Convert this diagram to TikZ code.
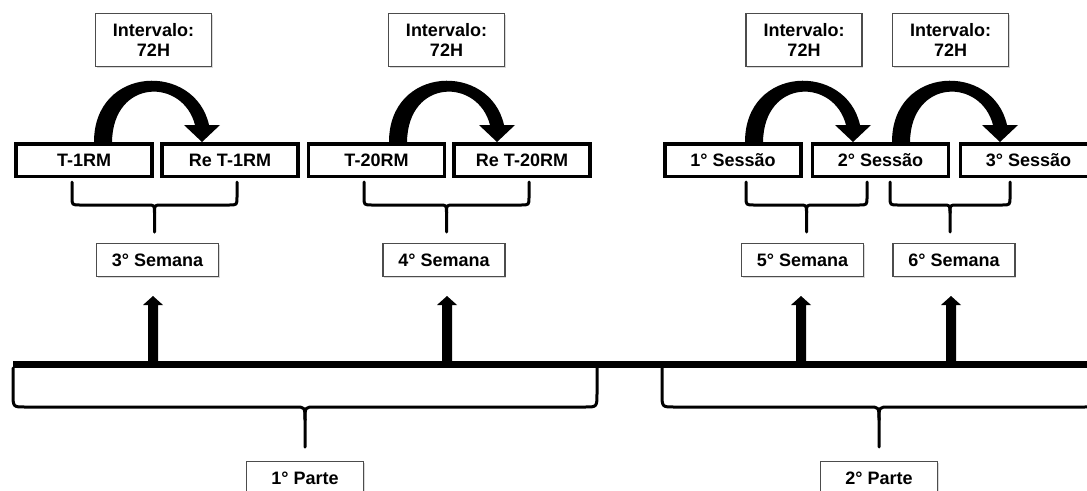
\documentclass[tikz,border=0pt]{standalone}
\usepackage{fontspec}
\setmainfont{Liberation Sans}
\usetikzlibrary{shadows}
\begin{document}
\begin{tikzpicture}[x=1pt,y=-1pt,
  every node/.style={font=\bfseries\fontsize{18}{19.5}\selectfont, align=center, inner sep=0pt, text=black},
  thinbox/.style={draw=black!70, line width=1.2pt, fill=white,
    drop shadow={shadow xshift=1.2pt, shadow yshift=-1.4pt, opacity=0.3}},
  intbox/.style={thinbox, minimum width=116pt, minimum height=53pt},
  weekbox/.style={thinbox, minimum width=122pt, minimum height=33pt},
  partbox/.style={thinbox, minimum width=117pt, minimum height=33pt},
  thickbox/.style={draw=black, line width=3.5pt, fill=white, minimum width=136pt, minimum height=32.5pt,
    drop shadow={shadow xshift=1.2pt, shadow yshift=-1.6pt, opacity=0.3}},
  bracepath/.style={line width=3pt, line join=round, line cap=round},
  curvedarrow/.pic={
    \fill (0,0) .. controls (0,-77) and (101,-80) .. (115,-17)
      -- (126,-17) -- (108,0) -- (90,-17) -- (101,-17)
      .. controls (89,-64) and (19,-64) .. (18,0) -- cycle;
  }
]
\useasboundingbox (0,0) rectangle (1087,490);
\clip (0,0) rectangle (1087,490);

% interval boxes
\node[intbox] (i1) at (153.5,40) {Intervalo:\\72H};
\node[intbox] (i2) at (446.5,40) {Intervalo:\\72H};
\node[intbox] (i3) at (804,40) {Intervalo:\\72H};
\node[intbox] (i4) at (950.5,40) {Intervalo:\\72H};

% curved arrows
\pic at (94,142) {curvedarrow};
\pic at (389,142) {curvedarrow};
\pic at (745,142) {curvedarrow};
\pic at (892,142) {curvedarrow};

% test / session boxes
\node[thickbox] (t1) at (84,160) {T-1RM};
\node[thickbox] (rt1) at (230,160) {Re T-1RM};
\node[thickbox] (t20) at (376.5,160) {T-20RM};
\node[thickbox] (rt20) at (522,160) {Re T-20RM};
\node[thickbox] (s1) at (733,160) {1° Sessão};
\node[thickbox] (s2) at (880.5,160) {2° Sessão};
\node[thickbox] (s3) at (1028.5,160) {3° Sessão};

% top braces
\foreach \a/\m/\b in {72/154.5/237, 364/446.5/529, 746/806.5/867, 890/950/1010}{
  \draw[bracepath] (\a,182) -- (\a,197) .. controls (\a,205) .. (\a+8,205)
     -- (\m-7,205) .. controls (\m,205) .. (\m,213) -- (\m,232);
  \draw[bracepath] (\b,182) -- (\b,197) .. controls (\b,205) .. (\b-8,205)
     -- (\m+7,205) .. controls (\m,205) .. (\m,213);
}

% week boxes
\node[weekbox] (w3) at (157.5,260) {3° Semana};
\node[weekbox] (w4) at (444,260) {4° Semana};
\node[weekbox] (w5) at (802.5,260) {5° Semana};
\node[weekbox] (w6) at (954,260) {6° Semana};

% timeline
\fill (13,361) rectangle (1095,368);

% up arrows
\foreach \x in {153,447,801,951}{
  \fill (\x-5,362) -- (\x-5,305) -- (\x-10,305) -- (\x,296) -- (\x+10,305) -- (\x+5,305) -- (\x+5,362) -- cycle;
}

% bottom braces
\foreach \a/\m/\b in {13/305/597, 662/879/1096}{
  \draw[bracepath] (\a,368) -- (\a,393) .. controls (\a,407) .. (\a+12,407)
     -- (\m-10,407) .. controls (\m,407) .. (\m,420) -- (\m,447);
  \draw[bracepath] (\b,368) -- (\b,393) .. controls (\b,407) .. (\b-12,407)
     -- (\m+10,407) .. controls (\m,407) .. (\m,420);
}

% part boxes
\node[partbox] (p1) at (305,478) {1° Parte};
\node[partbox] (p2) at (879,478) {2° Parte};
\end{tikzpicture}
\end{document}
